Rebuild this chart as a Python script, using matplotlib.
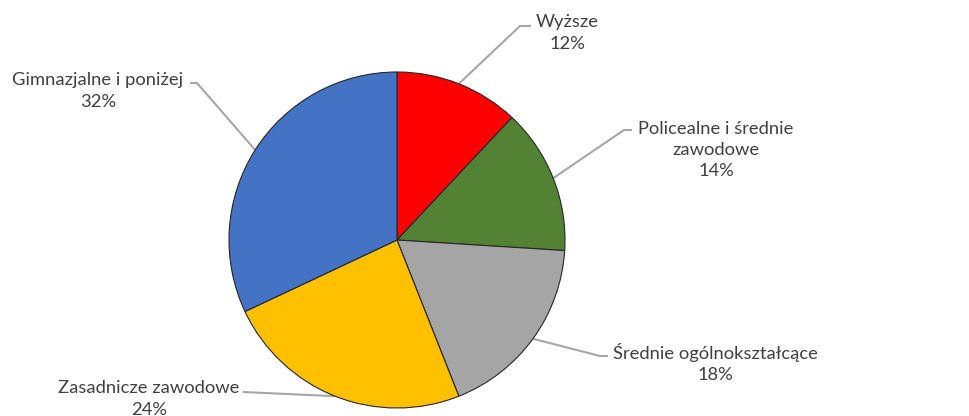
import numpy as np
import matplotlib
matplotlib.use("Agg")
import matplotlib.pyplot as plt

categories = ["Wyższe", "Policealne i średnie\nzawodowe", "Średnie ogólnokształcące",
              "Zasadnicze zawodowe", "Gimnazjalne i poniżej"]
values = [12, 14, 18, 24, 32]
colors = ["#FF0000", "#548235", "#A5A5A5", "#FFC000", "#4472C4"]

W, H = 969, 416
fig = plt.figure(figsize=(W / 100, H / 100), dpi=100)
ax = fig.add_axes([0, 0, 1, 1])

cx, cy, r = 397, H - 240, 168
wedges, _ = ax.pie(values, colors=colors, startangle=90, counterclock=False,
                   center=(cx, cy), radius=r,
                   wedgeprops=dict(edgecolor="#262626", linewidth=0.8))
ax.set_xlim(0, W)
ax.set_ylim(0, H)
ax.set_aspect("auto")
ax.axis("off")

# layout of leader elbows / label anchors (pixel coords, y from top)
elbows = [(520, 26), (624, 130), (600, 356), (243, 392), (197, 83)]
ends = [(531, 26), (632, 130), (608, 356), (243, 392), (190, 83)]
text_pos = [(567, 33), (716, 150), (715, 363), (149, 399), (98, 91)]

fontfam = ["Lato", "DejaVu Sans"]
for w, cat, val, el, en, tp in zip(wedges, categories, values, elbows, ends, text_pos):
    mid = np.deg2rad((w.theta1 + w.theta2) / 2)
    sx, sy = cx + r * np.cos(mid), cy + r * np.sin(mid)
    ax.plot([sx, el[0], en[0]], [sy, H - el[1], H - en[1]], color="#A6A6A6", lw=1.5,
            solid_capstyle="butt", zorder=0)
    ax.text(tp[0], H - tp[1], f"{cat}\n{val}%", ha="center", va="center",
            fontsize=13.2, color="#404040", family=fontfam, linespacing=1.4)

fig.savefig("out.png", dpi=100)
